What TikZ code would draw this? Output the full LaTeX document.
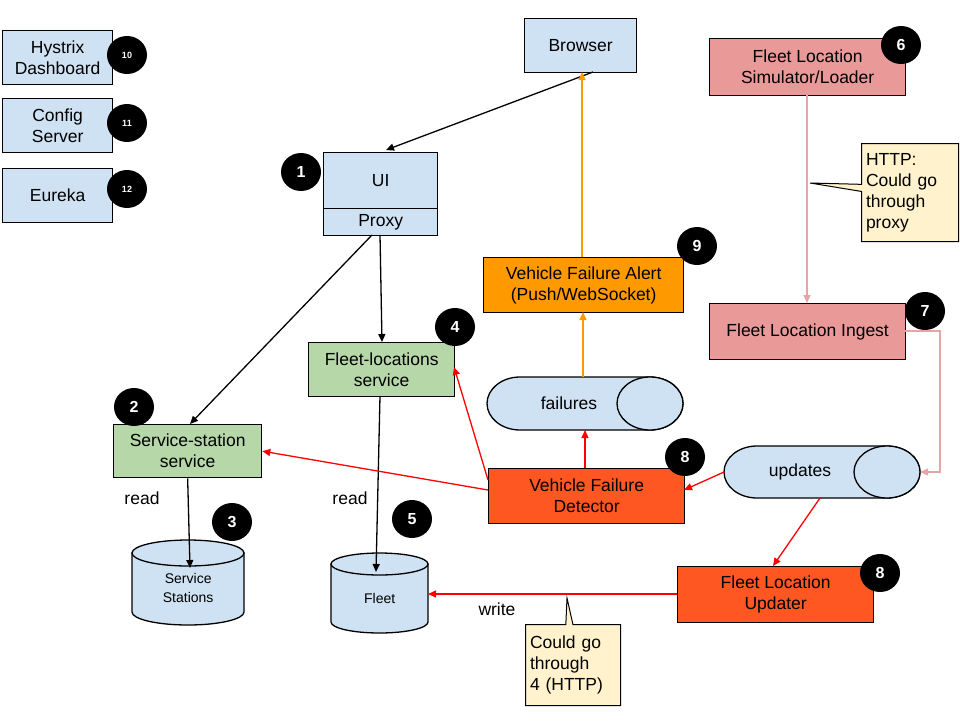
\documentclass[tikz,border=0pt]{standalone}
\usepackage{fontspec}
\setmainfont{Liberation Sans}
\usetikzlibrary{shapes.geometric,shapes.callouts,arrows.meta}
\definecolor{lb}{HTML}{CFE2F3}
\definecolor{gr}{HTML}{B6D7A8}
\definecolor{pk}{HTML}{EA9999}
\definecolor{orng}{HTML}{FF9900}
\definecolor{rd}{HTML}{FF5722}
\definecolor{yl}{HTML}{FFF2CC}
\definecolor{pkl}{HTML}{E6A5A5}
\tikzset{
 box/.style={draw,line width=1.3pt,align=center,font=\fontsize{17.5}{21}\selectfont,anchor=north west,inner sep=0pt},
 num/.style={fill=black,ellipse,minimum width=40pt,minimum height=38pt,inner sep=0pt,text=white,font=\bfseries\fontsize{16}{18}\selectfont},
 smallnum/.style={num,font=\bfseries\fontsize{9}{10}\selectfont},
 cylb/.style={draw,line width=1.3pt,fill=lb},
 place/.style={inner sep=0pt,align=center},
 arr/.style={-{Triangle[length=8pt,width=7pt]},line width=1.3pt},
 lbl/.style={font=\fontsize{17.5}{21}\selectfont},
 note/.style={rectangle callout,draw,line width=1pt,fill=yl,align=left,font=\fontsize{17.5}{21}\selectfont,anchor=north west,inner sep=4pt}
}
\begin{document}
\begin{tikzpicture}[x=1pt,y=-1pt]
\useasboundingbox (0,0) rectangle (960,720);
% boxes
\node[box,fill=lb,minimum width=110pt,minimum height=54pt] (hys) at (2,30) {Hystrix\\Dashboard};
\node[box,fill=lb,minimum width=110pt,minimum height=54pt] (cfg) at (2,98) {Config\\Server};
\node[box,fill=lb,minimum width=110pt,minimum height=54pt] (eur) at (2,168) {Eureka};
\node[smallnum] (n10) at (127,55) {10};
\node[smallnum] (n11) at (127,123) {11};
\node[smallnum] (n12) at (127,189) {12};
\node[box,fill=lb,minimum width=112pt,minimum height=54pt] (br) at (524,18) {Browser};
\node[box,fill=lb,minimum width=114pt,minimum height=56pt] (ui) at (323,152) {UI};
\node[box,fill=lb,minimum width=114pt,minimum height=27pt] (px) at (323,208) {Proxy};
\node[num] (n1) at (301,172) {1};
\node[box,fill=pk,minimum width=196pt,minimum height=57pt] (sim) at (709,38) {Fleet Location\\Simulator/Loader};
\node[num] (n6) at (901,45) {6};
\node[note,callout absolute pointer={(810,183)},minimum width=97pt,minimum height=98pt,text width=88pt] (c1) at (861,143) {HTTP:\\Could go\\through\\proxy};
\node[box,fill=orng,minimum width=200pt,minimum height=55pt] (alert) at (483,257) {Vehicle Failure Alert\\(Push/WebSocket)};
\node[num] (n9) at (697,246) {9};
\node[box,fill=pk,minimum width=196pt,minimum height=56pt] (ing) at (709,303) {Fleet Location Ingest};
\node[num] (n7) at (925,311) {7};
\node[box,fill=gr,minimum width=146pt,minimum height=54pt] (fls) at (308,342) {Fleet-locations\\service};
\node[num] (n4) at (455,327) {4};
% failures cylinder
\draw[cylb] (650,377) -- (520,377) arc[start angle=270,end angle=90,x radius=33,y radius=26.5] -- (650,430) arc[start angle=90,end angle=-90,x radius=33,y radius=26.5] -- cycle;
\draw[cylb] (650,403.5) ellipse[x radius=33,y radius=26.5];
\node[place,minimum width=196pt,minimum height=53pt,anchor=north west] (fail) at (487,377) {};
\node[lbl] at (569,403.5) {failures};
\node[box,fill=gr,minimum width=148pt,minimum height=53pt] (sss) at (113,424) {Service-station\\service};
\node[num] (n2) at (134,407) {2};
\node[box,fill=rd,minimum width=196pt,minimum height=55pt] (det) at (488,468) {Vehicle Failure\\Detector};
\node[num] (n8a) at (685,457) {8};
% updates cylinder
\draw[cylb] (887,446) -- (757,446) arc[start angle=270,end angle=90,x radius=33,y radius=26] -- (887,498) arc[start angle=90,end angle=-90,x radius=33,y radius=26] -- cycle;
\draw[cylb] (887,472) ellipse[x radius=33,y radius=26];
\node[place,minimum width=196pt,minimum height=52pt,anchor=north west] (upd) at (724,446) {};
\node[lbl] at (800,472) {updates};
% service stations cylinder
\draw[cylb] (132,553) -- (132,612) arc[start angle=180,end angle=0,x radius=56,y radius=13] -- (244,553) -- cycle;
\draw[cylb] (188,553) ellipse[x radius=56,y radius=13];
\node[place,minimum width=112pt,minimum height=85pt,anchor=north west,font=\fontsize{14}{19}\selectfont] (ss) at (132,540) {\\[2pt]Service\\Stations};
\node[num] (n3) at (232,522) {3};
% fleet cylinder
\draw[cylb] (331,564) -- (331,622) arc[start angle=180,end angle=0,x radius=48.5,y radius=11] -- (428,564) -- cycle;
\draw[cylb] (379.5,564) ellipse[x radius=48.5,y radius=11];
\node[place,minimum width=97pt,minimum height=80pt,anchor=north west,font=\fontsize{14}{16}\selectfont] (fleet) at (331,553) {\\[4pt]Fleet};
\node[num] (n5) at (412,519) {5};
\node[box,fill=rd,minimum width=196pt,minimum height=56pt] (updr) at (677,566) {Fleet Location\\Updater};
\node[num] (n8b) at (880,573) {8};
\node[note,callout absolute pointer={(567,598)},minimum width=95pt,minimum height=81pt,text width=86pt] (c2) at (525,624) {Could go\\through\\4 (HTTP)};
\node[lbl] (r1) at (142,498) {read};
\node[lbl] (r2) at (350,498) {read};
\node[lbl] (w1) at (497,609) {write};
% arrows black
\draw[arr] (593,72) -- (386,150);
\draw[arr] (372,235) -- (190,424);
\draw[arr] (380,235) -- (382,342);
\draw[arr] (sss.south) -- (190,568);
\draw[arr] (380,396) -- (376,572);
% orange
\draw[arr,orng] (582,257) -- (582,72);
\draw[arr,orng] (583,377) -- (583,312);
% red
\draw[arr,red] (585,468) -- (585,430);
\draw[arr,red] (488,490) -- (sss.east);
\draw[arr,red] (488,480) -- (454,367);
\draw[arr,red] (724,472) -- (684,490);
\draw[arr,red] (820,498) -- (773,566);
\draw[arr,red] (677,594) -- (428,594);
% pink
\draw[arr,pkl] (807,95) -- (807,303);
\draw[arr,pkl] (905,331) -- (940,331) -- (940,472) -- (920,472);
\end{tikzpicture}
\end{document}
